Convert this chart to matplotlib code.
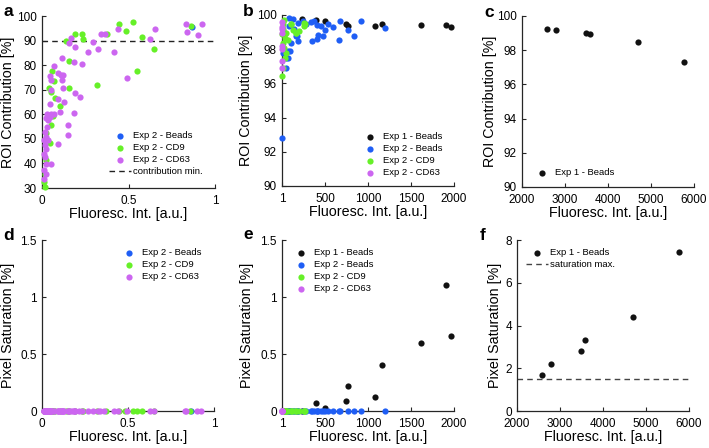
import matplotlib
matplotlib.use("Agg")
import matplotlib.pyplot as plt

plt.rcParams['font.family'] = ['Liberation Sans', 'DejaVu Sans']

BLUE = '#1f5ef5'
GREEN = '#66f028'
PURPLE = '#cc66f0'
BLACK = '#111111'

# ---------------- Exp 2 normalised data (panels a, d) ----------------
a_beads_x = [0.865]
a_beads_y = [95.4]

a_cd9_x = [0.139, 0.191, 0.230, 0.238, 0.373, 0.446, 0.485, 0.527, 0.579, 0.862,
           0.649, 0.552, 0.319, 0.154, 0.102, 0.158, 0.060, 0.070, 0.040, 0.050,
           0.075, 0.064, 0.054, 0.044, 0.021, 0.025, 0.014, 0.017, 0.015]
a_cd9_y = [89.9, 92.8, 92.8, 90.8, 92.8, 96.6, 93.9, 97.4, 91.4, 96.0,
           86.7, 77.8, 72.1, 70.8, 63.3, 81.5, 77.6, 73.4, 70.9, 68.9,
           66.6, 59.2, 55.6, 48.3, 52.4, 41.3, 32.4, 35.6, 30.3]

a_cd63_x = [0.440, 0.340, 0.363, 0.326, 0.295, 0.266, 0.191, 0.234, 0.187, 0.166,
            0.158, 0.118, 0.108, 0.114, 0.122, 0.218, 0.191, 0.183, 0.151, 0.104,
            0.129, 0.093, 0.095, 0.149, 0.417, 0.492, 0.625, 0.651, 0.832, 0.838,
            0.902, 0.927, 0.093, 0.122,
            0.068, 0.044, 0.050, 0.054, 0.044, 0.031, 0.050, 0.070, 0.025, 0.037,
            0.044, 0.029, 0.017, 0.025, 0.010, 0.035, 0.015, 0.025, 0.010, 0.017,
            0.025, 0.054, 0.010, 0.021, 0.012]
a_cd63_y = [94.7, 92.8, 92.8, 86.7, 89.5, 85.5, 87.4, 80.4, 81.2, 91.2,
            88.9, 83.0, 76.1, 73.8, 70.9, 67.1, 68.7, 60.7, 55.6, 60.9,
            64.9, 66.4, 48.1, 51.5, 85.5, 74.9, 90.5, 94.6, 96.6, 93.6,
            92.4, 96.9, 76.9, 75.8,
            79.6, 75.4, 73.9, 69.8, 64.1, 60.3, 60.3, 60.3, 58.3, 57.6,
            59.0, 54.9, 52.8, 50.8, 49.4, 49.4, 47.4, 46.0, 44.0, 42.6,
            39.9, 39.9, 37.2, 35.8, 33.8]
contribution_min = 90

# ---------------- raw intensity data (panels b, e) ----------------
e1_x = [230, 395, 500, 740, 772, 1078, 1165, 1615, 1905, 1968]
e1_roi = [99.75, 99.68, 99.63, 99.5, 99.35, 99.35, 99.5, 99.42, 99.42, 99.27]
e1_sat = [0.0, 0.07, 0.023, 0.09, 0.216, 0.123, 0.406, 0.595, 1.106, 0.654]

e2b_x = [1, 8, 39, 46, 50, 70, 70, 78, 85, 89, 105, 128, 143, 166, 174, 186, 186,
         244, 275, 333, 345, 368, 410, 410, 418, 450, 476, 496, 535, 593, 662, 670,
         767, 837, 921, 1193]
e2b_roi = [92.8, 97.8, 98.95, 96.9, 97.5, 97.49, 97.9, 99.82, 99.34, 97.88, 98.36,
           99.78, 99.18, 98.75, 98.75, 99.53, 98.46, 99.67, 99.47, 99.59, 98.5,
           99.63, 99.43, 98.6, 98.85, 99.34, 98.75, 99.14, 99.47, 99.28, 98.52,
           99.63, 99.14, 98.75, 99.67, 99.24]

e2cd9_x = [8, 14, 5, 31, 18, 28, 50, 34, 10, 6, 108, 128, 166, 264, 258, 27, 46,
           66, 105, 163, 252, 200]
e2cd9_roi = [99.5, 99.2, 98.9, 98.65, 98.36, 98.07, 97.78, 97.5, 96.9, 96.45, 99.5,
             99.14, 98.95, 99.5, 99.34, 99.73, 98.95, 98.56, 99.45, 98.95, 99.53,
             99.05]

e2cd63_x = [3, 3, 5, 4, 6, 3, 4, 2]
e2cd63_roi = [99.57, 99.3, 99.18, 98.95, 98.2, 98.0, 97.3, 96.9]

# ---------------- high intensity Exp 1 beads (panels c, f) ----------------
c_x = [2570, 2790, 3490, 3585, 4700, 5770]
c_roi = [99.26, 99.18, 98.98, 98.93, 98.5, 97.32]
c_sat = [1.68, 2.22, 2.79, 3.34, 4.38, 7.43]
saturation_max = 1.5

W, H = 709, 448
fig = plt.figure(figsize=(W / 100, H / 100), dpi=100)


def add_ax(l, r, t, b):
    return fig.add_axes([l / W, 1 - b / H, (r - l) / W, (b - t) / H])


axa = add_ax(42, 215, 16, 188)
axb = add_ax(282, 454, 15, 186)
axc = add_ax(522, 694, 16, 187)
axd = add_ax(42, 214, 240, 411)
axe = add_ax(282, 454, 240, 411)
axf = add_ax(517, 689, 240, 411)

MS = 20
TICK = 8.5
LAB = 10.3
LEG = 6.8
SPINE = '#262626'


def style(ax, ylabel_off):
    for s in ['top', 'right']:
        ax.spines[s].set_visible(False)
    for s in ['left', 'bottom']:
        ax.spines[s].set_color(SPINE)
        ax.spines[s].set_linewidth(0.9)
    ax.tick_params(direction='in', length=3, width=0.8, labelsize=TICK,
                   colors=SPINE, labelcolor='black')
    ax.tick_params(axis='x', pad=4.8)
    ax.tick_params(axis='y', pad=3.6)
    ax.set_xlabel('Fluoresc. Int. [a.u.]', fontsize=LAB)
    ax.xaxis.set_label_coords(0.5, -0.11)
    ax.xaxis.label.set_va('top')
    ax.yaxis.set_label_coords(-ylabel_off, 0.5)


def sc(ax, x, y, c, label):
    ax.scatter(x, y, s=MS, c=c, linewidths=0, label=label, clip_on=False, zorder=3)


def leg(ax, anchor):
    return ax.legend(loc='upper left', bbox_to_anchor=anchor, frameon=False,
                     fontsize=LEG, handlelength=2.4, handletextpad=0.2,
                     labelspacing=0.31, borderaxespad=0, borderpad=0)


# panel a
sc(axa, a_beads_x, a_beads_y, BLUE, 'Exp 2 - Beads')
sc(axa, a_cd9_x, a_cd9_y, GREEN, 'Exp 2 - CD9')
sc(axa, a_cd63_x, a_cd63_y, PURPLE, 'Exp 2 - CD63')
axa.axhline(contribution_min, color='#222222', lw=1.0, ls=(0, (4, 3)),
            label='contribution min.')
axa.set_xlim(0, 1)
axa.set_ylim(30, 100)
axa.set_xticks([0, 0.5, 1])
axa.set_xticklabels(['0', '0.5', '1'])
axa.set_yticks(range(30, 101, 10))
axa.set_ylabel('ROI Contribution [%]', fontsize=LAB)
style(axa, 0.156)
leg(axa, (0.386, 0.329))

# panel b
sc(axb, e1_x, e1_roi, BLACK, 'Exp 1 - Beads')
sc(axb, e2b_x, e2b_roi, BLUE, 'Exp 2 - Beads')
sc(axb, e2cd9_x, e2cd9_roi, GREEN, 'Exp 2 - CD9')
sc(axb, e2cd63_x, e2cd63_roi, PURPLE, 'Exp 2 - CD63')
axb.set_xlim(1, 2000)
axb.set_ylim(90, 100)
axb.set_xticks([1, 500, 1000, 1500, 2000])
axb.set_yticks(range(90, 101, 2))
axb.set_ylabel('ROI Contribution [%]', fontsize=LAB)
style(axb, 0.168)
leg(axb, (0.446, 0.313))

# panel c
sc(axc, c_x, c_roi, BLACK, 'Exp 1 - Beads')
axc.set_xlim(2000, 6000)
axc.set_ylim(90, 100)
axc.set_xticks(range(2000, 6001, 1000))
axc.set_yticks(range(90, 101, 2))
axc.set_ylabel('ROI Contribution [%]', fontsize=LAB)
style(axc, 0.145)
leg(axc, (0.05, 0.109))

# panel d
sc(axd, a_beads_x, [0] * len(a_beads_x), BLUE, 'Exp 2 - Beads')
sc(axd, a_cd9_x, [0] * len(a_cd9_x), GREEN, 'Exp 2 - CD9')
sc(axd, a_cd63_x, [0] * len(a_cd63_x), PURPLE, 'Exp 2 - CD63')
axd.set_xlim(0, 1)
axd.set_ylim(0, 1.5)
axd.set_xticks([0, 0.5, 1])
axd.set_xticklabels(['0', '0.5', '1'])
axd.set_yticks([0, 0.5, 1, 1.5])
axd.set_yticklabels(['0', '0.5', '1', '1.5'])
axd.set_ylabel('Pixel Saturation [%]', fontsize=LAB)
style(axd, 0.157)
leg(axd, (0.44, 0.951))

# panel e
sc(axe, e1_x, e1_sat, BLACK, 'Exp 1 - Beads')
sc(axe, e2b_x, [0] * len(e2b_x), BLUE, 'Exp 2 - Beads')
sc(axe, e2cd9_x, [0] * len(e2cd9_x), GREEN, 'Exp 2 - CD9')
sc(axe, e2cd63_x, [0] * len(e2cd63_x), PURPLE, 'Exp 2 - CD63')
axe.set_xlim(1, 2000)
axe.set_ylim(0, 1.5)
axe.set_xticks([1, 500, 1000, 1500, 2000])
axe.set_yticks([0, 0.5, 1, 1.5])
axe.set_yticklabels(['0', '0.5', '1', '1.5'])
axe.set_ylabel('Pixel Saturation [%]', fontsize=LAB)
style(axe, 0.163)
leg(axe, (0.045, 0.951))

# panel f
sc(axf, c_x, c_sat, BLACK, 'Exp 1 - Beads')
axf.axhline(saturation_max, color='#444444', lw=1.0, ls=(0, (4, 3)),
            label='saturation max.')
axf.set_xlim(2000, 6000)
axf.set_ylim(0, 8)
axf.set_xticks(range(2000, 6001, 1000))
axf.set_yticks(range(0, 9, 2))
axf.set_ylabel('Pixel Saturation [%]', fontsize=LAB)
style(axf, 0.085)
leg(axf, (0.051, 0.951))

for lab, x, y in [('a', 3, 16), ('b', 243, 16), ('c', 484, 17),
                  ('d', 3, 240), ('e', 243, 239), ('f', 480, 240)]:
    fig.text(x / W, 1 - y / H, lab, fontsize=12.5, fontweight='bold', va='baseline')

fig.savefig('out.png', dpi=100)
